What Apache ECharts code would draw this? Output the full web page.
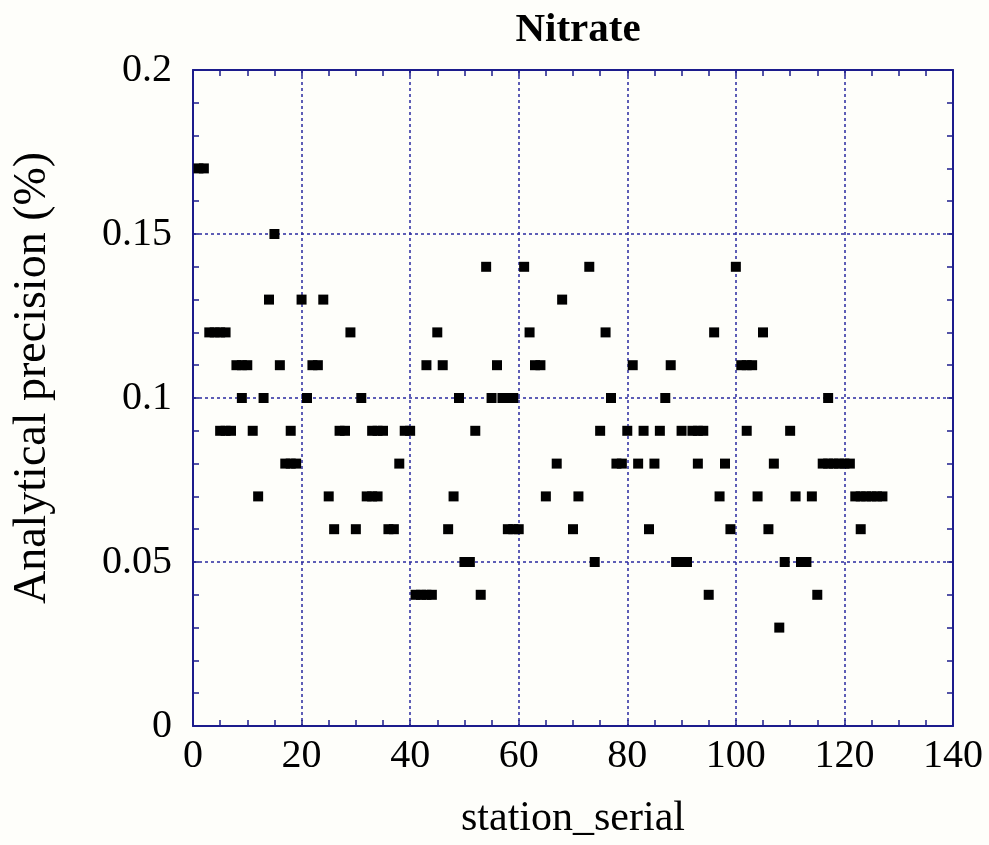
<!DOCTYPE html>
<html>
<head>
<meta charset="utf-8">
<script src="https://cdn.jsdelivr.net/npm/echarts@6/dist/echarts.min.js"></script>
<style>
html,body{margin:0;padding:0;background:#fefefa;}
#chart{width:989px;height:845px;}
</style>
</head>
<body>
<div id="chart"></div>
<script>
// Data
const stationSerial = [1,2,3,4,5,5,6,6,7,8,9,9,10,11,12,13,14,15,16,17,18,18,19,20,21,22,23,24,25,26,27,28,29,30,31,32,33,33,34,34,35,36,37,38,39,40,41,42,43,43,44,45,46,47,48,49,50,51,52,53,54,55,56,57,58,58,59,59,60,61,62,63,64,65,67,68,70,71,73,74,75,76,77,78,79,80,81,82,83,84,85,86,87,88,89,90,90,91,92,93,93,94,95,96,97,98,99,100,101,102,102,103,104,105,106,107,108,109,110,111,112,113,114,115,116,117,117,118,119,120,121,122,123,123,124,125,126,127];
const precision = [0.17,0.17,0.12,0.12,0.12,0.09,0.12,0.09,0.09,0.11,0.11,0.10,0.11,0.09,0.07,0.10,0.13,0.15,0.11,0.08,0.09,0.08,0.08,0.13,0.10,0.11,0.11,0.13,0.07,0.06,0.09,0.09,0.12,0.06,0.10,0.07,0.09,0.07,0.09,0.07,0.09,0.06,0.06,0.08,0.09,0.09,0.04,0.04,0.11,0.04,0.04,0.12,0.11,0.06,0.07,0.10,0.05,0.05,0.09,0.04,0.14,0.10,0.11,0.10,0.10,0.06,0.10,0.06,0.06,0.14,0.12,0.11,0.11,0.07,0.08,0.13,0.06,0.07,0.14,0.05,0.09,0.12,0.10,0.08,0.08,0.09,0.11,0.08,0.09,0.06,0.08,0.09,0.10,0.11,0.05,0.09,0.05,0.05,0.09,0.09,0.08,0.09,0.04,0.12,0.07,0.08,0.06,0.14,0.11,0.11,0.09,0.11,0.07,0.12,0.06,0.08,0.03,0.05,0.09,0.07,0.05,0.05,0.07,0.04,0.08,0.10,0.08,0.08,0.08,0.08,0.08,0.07,0.07,0.06,0.07,0.07,0.07,0.07];
const xTicks = {min: 0, max: 140, interval: 20};
const yTicks = {min: 0, max: 0.2, interval: 0.05};
const titleText = 'Nitrate';
const xName = 'station_serial';
const yName = 'Analytical precision (%)';

const FONT = "'Liberation Serif','Times New Roman',serif";
const NAVY = '#1c1c8c';
const GRID = '#2a2aa0';

const points = stationSerial.map((x, i) => [x, precision[i]]);

function axisBase(extra) {
  return Object.assign({
    type: 'value',
    axisLine: {show: true, onZero: false, lineStyle: {color: NAVY, width: 2}},
    axisTick: {show: true, inside: true, length: 6, lineStyle: {color: NAVY, width: 1.5}},
    minorTick: {show: true, length: 6, lineStyle: {color: NAVY, width: 1.5}},
    splitLine: {show: false}
  }, extra);
}

const chart = echarts.init(document.getElementById('chart'), null, {renderer: 'canvas'});
chart.setOption({
  animation: false,
  backgroundColor: '#fefefa',
  title: {
    text: titleText,
    left: 573, top: 5, textAlign: 'center',
    textStyle: {fontFamily: FONT, fontWeight: 'bold', fontSize: 41, color: '#000'}
  },
  grid: {left: 193, top: 70, width: 760, height: 656, containLabel: false, outerBoundsMode: 'none'},
  xAxis: [
    axisBase(Object.assign({}, xTicks, {
      position: 'bottom',
      name: xName, nameLocation: 'middle', nameGap: 72,
      nameTextStyle: {fontFamily: FONT, fontSize: 42, color: '#000'},
      minorTick: {show: true, splitNumber: 4, length: 6, lineStyle: {color: NAVY, width: 1.5}},
      axisLabel: {show: true, margin: 10, fontFamily: FONT, fontSize: 40, color: '#000'},
      splitLine: {show: true, lineStyle: {color: GRID, type: [3, 3], width: 1.5}}
    })),
    axisBase(Object.assign({}, xTicks, {
      position: 'top',
      minorTick: {show: true, splitNumber: 4, length: 6, lineStyle: {color: NAVY, width: 1.5}},
      axisLabel: {show: false}
    }))
  ],
  yAxis: [
    axisBase(Object.assign({}, yTicks, {
      position: 'left',
      name: yName, nameLocation: 'middle', nameGap: 137,
      nameTextStyle: {fontFamily: FONT, fontSize: 46, color: '#000', padding: [0, 0, 0, 40]},
      minorTick: {show: true, splitNumber: 5, length: 6, lineStyle: {color: NAVY, width: 1.5}},
      axisLabel: {show: true, margin: 21, fontFamily: FONT, fontSize: 40, color: '#000'},
      splitLine: {show: true, lineStyle: {color: GRID, type: [3, 3], width: 1.5}}
    })),
    axisBase(Object.assign({}, yTicks, {
      position: 'right',
      minorTick: {show: true, splitNumber: 5, length: 6, lineStyle: {color: NAVY, width: 1.5}},
      axisLabel: {show: false}
    }))
  ],
  series: [{
    type: 'scatter',
    xAxisIndex: 0, yAxisIndex: 0,
    symbol: 'rect',
    symbolSize: 10,
    itemStyle: {color: '#000', opacity: 1},
    data: points
  }]
});
</script>
</body>
</html>
